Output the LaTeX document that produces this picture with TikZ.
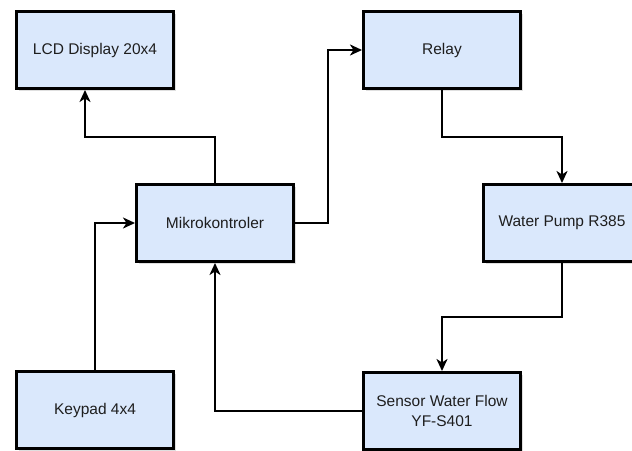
\documentclass[tikz,border=0pt]{standalone}
\usepackage{fontspec}
\setmainfont{Liberation Sans}
\usepackage{tikz}
\usetikzlibrary{arrows.meta, shadows}
\definecolor{boxblue}{HTML}{DAE8FC}
\definecolor{inkgray}{HTML}{1E1E1E}
\tikzstyle{block} = [rectangle, draw=black, line width=3pt, fill=boxblue,
  minimum width=157pt, minimum height=77pt, inner sep=0pt, align=center,
  text=inkgray, font=\fontsize{15.5}{19.5}\selectfont,
  drop shadow={shadow xshift=2pt, shadow yshift=-2pt, opacity=0.25, fill=gray}]
\tikzstyle{arrow} = [line width=2pt, -{Stealth[length=12pt, width=11pt, inset=3.5pt]}]

\begin{document}
\begin{tikzpicture}[x=1pt, y=-1pt]
    \useasboundingbox (0,0) rectangle (632,450);
    \clip (0,0) rectangle (632,450);
    \node[block] (lcd)    at (95,50)   {LCD Display 20x4};
    \node[block] (relay)  at (442,50)  {Relay};
    \node[block] (mcu)    at (215,223) {Mikrokontroler};
    \node[block] (pump)   at (562,223) {Water Pump R385};
    \node[block] (keypad) at (95,410)  {Keypad 4x4};
    \node[block] (sensor) at (442,411) {Sensor Water Flow\\ YF-S401};
    \draw[arrow] (mcu.north) |- (150,137) -| ([xshift=-10pt]lcd.south);
    \draw[arrow] (mcu.east) -| (328,150) |- (relay.west);
    \draw[arrow] (relay.south) |- (500,137) -| (pump.north);
    \draw[arrow] (pump.south) |- (500,317) -| (sensor.north);
    \draw[arrow] (sensor.west) -| (mcu.south);
    \draw[arrow] (keypad.north) |- (mcu.west);
  \end{tikzpicture}
\end{document}
